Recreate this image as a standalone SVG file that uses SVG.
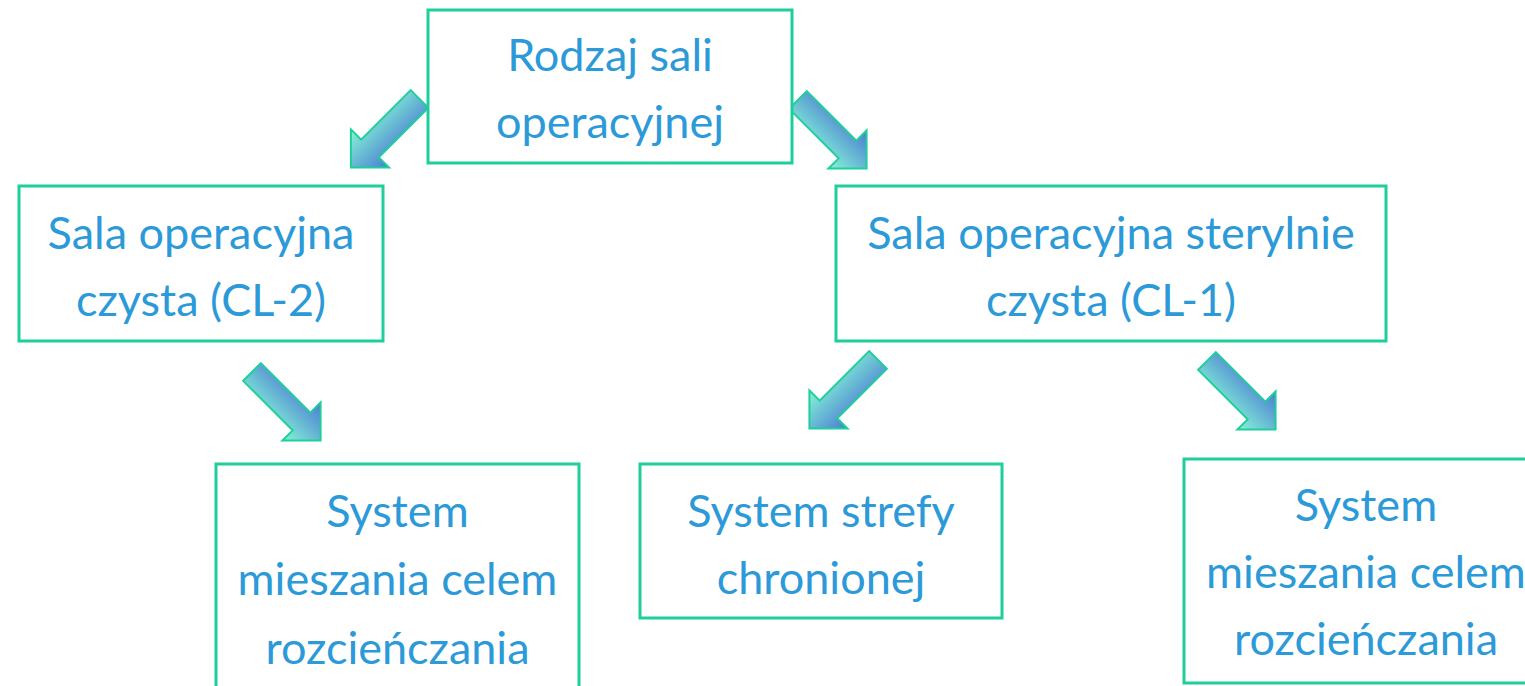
<svg xmlns="http://www.w3.org/2000/svg" width="1525" height="686" viewBox="0 0 1525 686">
<defs>
<linearGradient id="ag" x1="0" y1="0" x2="0" y2="1">
<stop offset="0" stop-color="#4A7BD2"/>
<stop offset="1" stop-color="#86F5D6"/>
</linearGradient>
<path id="arr" d="M0,-12.5 L70,-12.5 L70,-27 L97,0 L70,27 L70,12.5 L0,12.5 Z"/>
</defs>
<style>
.box{fill:#fff;stroke:#1FCF9B;stroke-width:3}
.t{font-family:Lato,"Open Sans",sans-serif;font-size:45px;fill:#2C9AD8;text-anchor:middle}
.a{fill:url(#ag);stroke:#1FCF9B;stroke-width:2;stroke-linejoin:miter}
</style>
<rect width="1525" height="686" fill="#fff"/>
<g id="connectors">
<use href="#arr" class="a" transform="translate(419.5,99) rotate(135)"/>
<use href="#arr" class="a" transform="translate(798,100) rotate(45)"/>
<use href="#arr" class="a" transform="translate(252,372) rotate(45)"/>
<use href="#arr" class="a" transform="translate(878,360) rotate(135)"/>
<use href="#arr" class="a" transform="translate(1207,361) rotate(45)"/>
</g>
<g id="n-top">
<rect class="box" x="428" y="10" width="364" height="153"/>
<text class="t" x="610" y="71">Rodzaj sali</text>
<text class="t" x="610" y="138">operacyjnej</text>
</g>
<g id="n-cl2">
<rect class="box" x="19" y="186" width="364" height="155"/>
<text class="t" x="201" y="249">Sala operacyjna</text>
<text class="t" x="201" y="316">czysta (CL-2)</text>
</g>
<g id="n-cl1">
<rect class="box" x="836" y="186" width="550" height="155"/>
<text class="t" x="1111" y="249">Sala operacyjna sterylnie</text>
<text class="t" x="1111" y="316">czysta (CL-1)</text>
</g>
<g id="n-mix1">
<rect class="box" x="216" y="464" width="363" height="240"/>
<text class="t" x="397.5" y="527">System</text>
<text class="t" x="397.5" y="595">mieszania celem</text>
<text class="t" x="397.5" y="664">rozcieńczania</text>
</g>
<g id="n-zone">
<rect class="box" x="640" y="464" width="362" height="154"/>
<text class="t" x="821" y="527">System strefy</text>
<text class="t" x="821" y="594">chronionej</text>
</g>
<g id="n-mix2">
<rect class="box" x="1184" y="459" width="364" height="224"/>
<text class="t" x="1366" y="521">System</text>
<text class="t" x="1366" y="588">mieszania celem</text>
<text class="t" x="1366" y="655">rozcieńczania</text>
</g>
</svg>
